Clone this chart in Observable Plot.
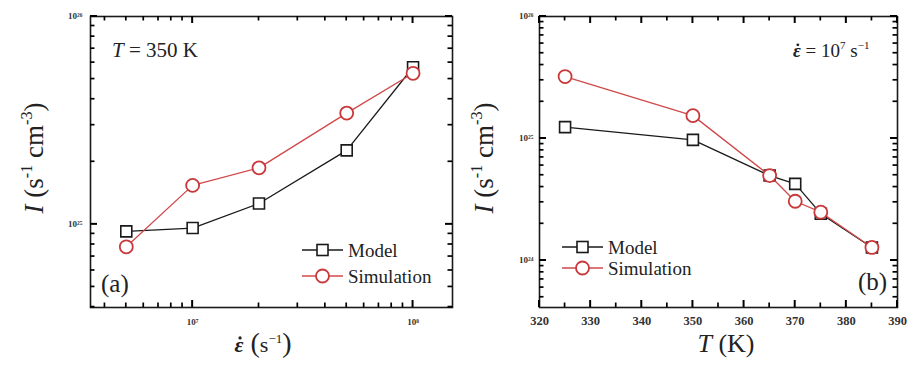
<!DOCTYPE html>
<html><head><meta charset="utf-8">
<script src="https://cdn.jsdelivr.net/npm/d3@7"></script>
<script src="https://cdn.jsdelivr.net/npm/@observablehq/plot@0.6"></script>
<style>
body{margin:0;background:#fff;}
#wrap{display:flex;width:911px;height:365px;}
#diag{position:absolute;left:120px;top:120px;color:red;font:12px monospace;white-space:pre;}
</style></head><body><div id="wrap"></div><div id="diag"></div>
<script>
// ---- data (a): strain rate vs nucleation rate at T = 350 K
const rateA = [5e6, 1e7, 2e7, 5e7, 1e8];
const modelA = [9.25e24, 9.6e24, 1.26e25, 2.27e25, 5.7e25];
const simA = [7.8e24, 1.54e25, 1.87e25, 3.43e25, 5.33e25];
// ---- data (b): temperature vs nucleation rate at strain rate 1e7
const tempB = [325, 350, 365, 370, 375, 385];
const modelB = [1.24e25, 9.75e24, 4.97e24, 4.25e24, 2.42e24, 1.28e24];
const simB = [3.22e25, 1.54e25, 4.97e24, 3.06e24, 2.49e24, 1.28e24];
const seriesNames = ["Model", "Simulation"];
// ---- tick labels
const xTicksA = [1e7, 1e8];
const yTicksA = [1e25, 1e26];
const xTicksB = [320, 330, 340, 350, 360, 370, 380, 390];
const yTicksB = [1e24, 1e25, 1e26];

const H = 365;
const FONT = "'Liberation Serif', 'Times New Roman', Times, 'DejaVu Serif', serif";
const BLACK = "#1a1a1a", RED = "#c9383a", REDLINE = "#d0484a";
const SUP = {"0":"⁰","1":"¹","2":"²","3":"³","4":"⁴","5":"⁵","6":"⁶","7":"⁷","8":"⁸","9":"⁹","-":"⁻"};
const pow10 = d => "10" + String(Math.round(Math.log10(d))).split("").map(c => SUP[c]).join("");
function logMinors(domain) {
  const out = [];
  for (let k = Math.floor(Math.log10(domain[0])); k <= Math.ceil(Math.log10(domain[1])); k++)
    for (let m = 2; m <= 9; m++) { const v = m * 10 ** k; if (v > domain[0] && v < domain[1]) out.push(v); }
  return out;
}
const diag = [];

function panel(o) {
  const model = o.xs.map((x, i) => ({x, y: o.model[i]}));
  const sim = o.xs.map((x, i) => ({x, y: o.sim[i]}));
  const svg = Plot.plot({
    width: o.width, height: H,
    marginLeft: o.mL, marginRight: o.mR, marginTop: o.mT, marginBottom: o.mB,
    x: {type: o.xType, domain: o.xDomain, label: null},
    y: {type: "log", domain: o.yDomain, label: null},
    style: {background: "#fff", fontFamily: FONT},
    marks: [
      Plot.axisX(o.xMajor, {tickSize: 0, tickPadding: o.xPad, tickFormat: o.xFmt, fontSize: o.xFont, fontWeight: "bold", fill: "#333"}),
      Plot.axisY(o.yMajor, {tickSize: 0, tickPadding: o.yPad, tickFormat: pow10, fontSize: 9, fontWeight: "bold", fill: "#333"}),
      Plot.frame({stroke: BLACK, strokeWidth: 1.6, fill: "none"}),
      Plot.line(model, {x: "x", y: "y", stroke: BLACK, strokeWidth: 1.3}),
      Plot.dot(model, {x: "x", y: "y", symbol: "square", r: 6.2, stroke: BLACK, strokeWidth: 1.6, fill: "#fff"}),
      Plot.line(sim, {x: "x", y: "y", stroke: REDLINE, strokeWidth: 1.3}),
      Plot.dot(sim, {x: "x", y: "y", symbol: "circle", r: 6.5, stroke: RED, strokeWidth: 1.8, fill: "#fff"})
    ]
  });
  const s = d3.select(svg);
  // inward ticks on all four sides, positioned through the plot's own scales
  const sx = svg.scale("x"), sy = svg.scale("y");
  const L = o.mL, R = o.width - o.mR, T = o.mT, Bm = H - o.mB;
  const tg = s.append("g").attr("class", "inticks");
  const MJ = 7, MN = 4.5;
  const seg = (x1, y1, x2, y2, w) => tg.append("line")
    .attr("x1", x1).attr("y1", y1).attr("x2", x2).attr("y2", y2)
    .attr("stroke", "#000").attr("stroke-width", w).attr("fill", "none");
  const xt = (vals, len, w) => vals.forEach(v => { const p = sx.apply(v); seg(p, Bm, p, Bm - len, w); seg(p, T, p, T + len, w); });
  const yt = (vals, len, w) => vals.forEach(v => { const p = sy.apply(v); seg(L, p, L + len, p, w); seg(R, p, R - len, p, w); });
  xt(o.xMajor, MJ, 2); xt(o.xMinor, MN, 1.7); yt(o.yMajor, MJ, 2); yt(o.yMinor, MN, 1.7);
  // legend
  const lg = s.append("g").attr("font-size", 19).attr("fill", "#222").attr("font-family", FONT).attr("text-anchor", "start");
  o.legend.rows.forEach((ry, i) => {
    const lx = o.legend.x;
    lg.append("line").attr("x1", lx).attr("x2", lx + 41).attr("y1", ry).attr("y2", ry)
      .attr("stroke", i ? REDLINE : BLACK).attr("stroke-width", 1.4);
    if (i === 0) lg.append("rect").attr("x", lx + 20.5 - 5.5).attr("y", ry - 5.5).attr("width", 11).attr("height", 11)
      .attr("fill", "#fff").attr("stroke", BLACK).attr("stroke-width", 1.6);
    else lg.append("circle").attr("cx", lx + 20.5).attr("cy", ry).attr("r", 6.5)
      .attr("fill", "#fff").attr("stroke", RED).attr("stroke-width", 1.8);
    lg.append("text").attr("x", lx + 46).attr("y", ry + 7).text(seriesNames[i]);
  });
  return {svg, s, tg};
}

function addRich(s, attrs, parts) {
  const t = s.append("text").attr("fill", "#222").attr("font-family", FONT).attr("text-anchor", "start");
  for (const k in attrs) t.attr(k, attrs[k]);
  parts.forEach(p => {
    const ts = t.append("tspan").text(p.t);
    if (p.style) ts.attr("font-style", p.style);
    if (p.weight) ts.attr("font-weight", p.weight);
    if (p.size) ts.attr("font-size", p.size);
    if (p.dy) ts.attr("dy", p.dy);
    if (p.dx) ts.attr("dx", p.dx);
  });
  return t;
}
const yLabelParts = (fs) => [
  {t: "I", style: "italic"}, {t: " (s"}, {t: "-1", size: fs * 0.6, dy: -fs * 0.4}, {t: " cm", dy: fs * 0.4},
  {t: "-3", size: fs * 0.6, dy: -fs * 0.4}, {t: ")", dy: fs * 0.4}
];
const dotted = [];

const domA = {x: [3.44e6, 1.51e8], y: [10 ** 24.6, 1e26]};
const A = panel({
  width: 455, mL: 90, mR: 3, mT: 16, mB: 58, xType: "log",
  xDomain: domA.x, yDomain: domA.y,
  xMajor: xTicksA, xMinor: logMinors(domA.x), yMajor: yTicksA, yMinor: logMinors(domA.y),
  xFmt: pow10, xFont: 9, xPad: 11, yPad: 8,
  xs: rateA, model: modelA, sim: simA,
  legend: {x: 302, rows: [250, 276]}
});
addRich(A.s, {transform: "translate(43,158) rotate(-90)", "text-anchor": "middle", "font-size": 27}, yLabelParts(27));
dotted.push({s: A.s, base: 352, fs: 22, t: addRich(A.s, {x: 263, y: 352, "text-anchor": "middle", "font-size": 22}, [
  {t: "ε", style: "italic", weight: "bold"}, {t: " (", size: 28}, {t: "s"}, {t: "−1", size: 13, dy: -9}, {t: ")", size: 28, dy: 9}
])});
addRich(A.s, {x: 112, y: 57, "font-size": 21}, [{t: "T", style: "italic"}, {t: " = 350 K"}]);
addRich(A.s, {x: 101, y: 292, "font-size": 25}, [{t: "(a)"}]);

const domB = {x: [320, 390], y: [10 ** 23.615, 1e26]};
const B = panel({
  width: 456, mL: 84, mR: 14, mT: 16, mB: 58, xType: "linear",
  xDomain: domB.x, yDomain: domB.y,
  xMajor: xTicksB, xMinor: xTicksB.slice(0, -1).map(d => d + 5), yMajor: yTicksB, yMinor: logMinors(domB.y),
  xFmt: d => String(d), xFont: 12.5, xPad: 9, yPad: 6,
  xs: tempB, model: modelB, sim: simB,
  legend: {x: 107, rows: [247, 268]}
});
addRich(B.s, {transform: "translate(38,158) rotate(-90)", "text-anchor": "middle", "font-size": 27}, yLabelParts(27));
addRich(B.s, {x: 271, y: 352, "text-anchor": "middle", "font-size": 26}, [{t: "T", style: "italic"}, {t: " (K)"}]);
dotted.push({s: B.s, base: 57, fs: 19, t: addRich(B.s, {x: 338, y: 57, "font-size": 19}, [
  {t: "ε", style: "italic", weight: "bold"}, {t: " = 10"}, {t: "7", size: 11, dy: -8}, {t: " s", dy: 8}, {t: "−1", size: 11, dy: -8}
])});
addRich(B.s, {x: 403, y: 290, "font-size": 25}, [{t: "(b)"}]);

document.getElementById("wrap").append(A.svg, B.svg);
dotted.forEach(({s, t, base, fs}) => {
  const e = t.node().getExtentOfChar(0);
  s.append("circle").attr("cx", e.x + e.width * 0.62).attr("cy", base - fs * 0.64).attr("r", fs * 0.075).attr("fill", "#222");
});
// diagnostic shown only if the tick lines are broken
[A, B].forEach((P, k) => {
  const lines = P.tg.node().querySelectorAll("line");
  let bad = 0;
  lines.forEach(l => { const b = l.getBBox(); if (!(b.width + b.height > 1)) bad++; });
  if (lines.length === 0 || bad > 0) diag.push(`panel ${k}: lines=${lines.length} bad=${bad} first=${lines[0] && lines[0].outerHTML}`);
});
if (diag.length) document.getElementById("diag").textContent = diag.join("\n");
</script></body></html>
